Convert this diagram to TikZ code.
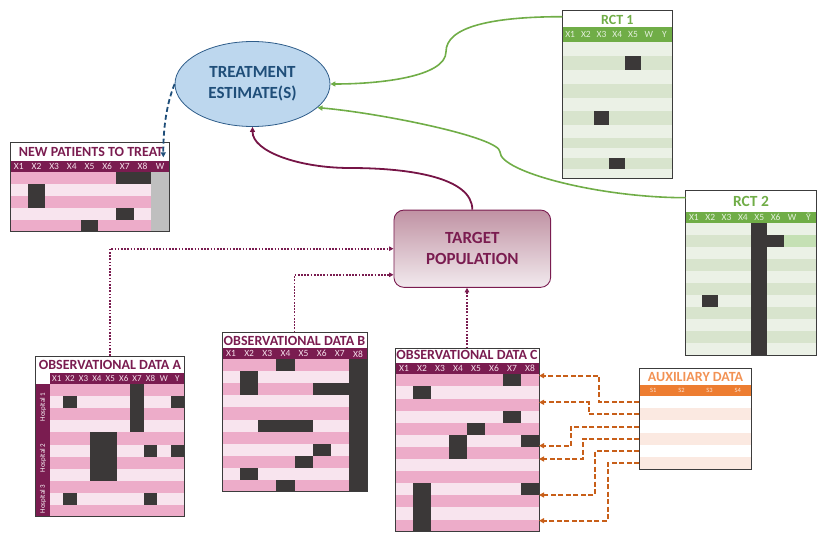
\documentclass[tikz,border=0pt]{standalone}
\usepackage{fontspec}
\setmainfont{Carlito}
\usetikzlibrary{arrows.meta,calc,shapes.geometric}

\definecolor{mar}{RGB}{122,28,80}
\definecolor{marD}{RGB}{118,20,70}
\definecolor{pinkA}{RGB}{237,172,201}
\definecolor{pinkB}{RGB}{248,228,238}
\definecolor{blk}{RGB}{59,56,56}
\definecolor{grn}{RGB}{112,173,71}
\definecolor{grnA}{RGB}{235,241,230}
\definecolor{grnB}{RGB}{216,228,205}
\definecolor{grnC}{RGB}{197,224,180}
\definecolor{org}{RGB}{237,125,49}
\definecolor{orgT}{RGB}{242,146,84}
\definecolor{orgL}{RGB}{251,233,225}
\definecolor{orgArr}{RGB}{200,95,25}
\definecolor{bluF}{RGB}{189,215,238}
\definecolor{bluD}{RGB}{31,78,121}
\definecolor{bluE}{RGB}{47,93,138}
\definecolor{gry}{RGB}{191,191,191}
\definecolor{frm}{RGB}{60,60,60}
\definecolor{tpTop}{RGB}{192,146,163}
\definecolor{tpBot}{RGB}{242,234,238}
\definecolor{hdrM}{RGB}{246,224,235}
\definecolor{hdrG}{RGB}{228,240,220}
\definecolor{hdrO}{RGB}{252,228,214}

\newcommand\stripeRows[7]{%
  \fill[#7] (#1,#2) rectangle (#3,{#2+#5*#4});
  \foreach \rr in {1,3,...,#5} \fill[#6] (#1,{#2+(\rr-1)*#4}) rectangle (#3,{#2+\rr*#4});
}
\newcommand\gridSet[4]{\def\gx{#1}\def\gy{#2}\def\gw{#3}\def\gh{#4}}
\newcommand\darkCells[5][blk]{\fill[#1] ({\gx+(#2-1)*\gw},{\gy+(#4-1)*\gh}) rectangle ({\gx+#3*\gw},{\gy+#5*\gh});}
\newcommand\headLabels[5][]{%
  \foreach \lbl [count=\nn] in {#5} \node[hl,text=#4,#1] (#2\nn) at ({\gx+(\nn-0.5)*\gw},#3) {\lbl};
}

\tikzset{
  tbox/.style={draw=frm,line width=1pt,inner sep=0pt,outer sep=0pt},
  ttl/.style={font=\bfseries\fontsize{14}{15}\selectfont,inner sep=0pt},
  hl/.style={font=\fontsize{9.5}{10}\selectfont,inner sep=0pt},
  hosp/.style={rotate=90,text=white,font=\fontsize{7}{8}\selectfont,inner sep=0pt},
  grnarr/.style={draw=grn,line width=1.6pt,-{Triangle[length=5pt,width=5pt]}},
  mararr/.style={draw=marD,line width=1.8pt,-{Triangle[length=5pt,width=5pt]}},
  bluarr/.style={draw=bluD,line width=1.8pt,dash pattern=on 5pt off 3pt,-{Triangle[length=5pt,width=5pt]}},
  dotln/.style={draw=mar,line width=1.7pt,dash pattern=on 1.7pt off 1.5pt,-{Triangle[length=4.5pt,width=4.5pt]}},
  auxarr/.style={draw=orgArr,line width=2pt,dash pattern=on 5pt off 2.5pt,-{Triangle[length=5pt,width=5pt]}},
}

\begin{document}
\begin{tikzpicture}[x=1pt,y=-1pt]
\useasboundingbox (0,0) rectangle (818,535);

% ---------- RCT 1
\fill[grn] (562.3,27) rectangle (672.3,41.7);
\foreach \a/\b/\cl in {41.7/56/grnA,56/70/grnB,70/84/grnA,84/97.7/grnB,97.7/111/grnA,111/125/grnB,125/138.3/grnA,138.3/148.3/grnB,148.3/158.3/grnA,158.3/169/grnB,169/178.5/grnA}
  \fill[\cl] (562.3,\a) rectangle (672.3,\b);
\gridSet{562.3}{41.7}{15.714}{14}
\fill[blk] (625.2,56) rectangle (640.9,70);
\fill[blk] (593.7,111) rectangle (609.4,125);
\fill[blk] (609.4,158.3) rectangle (625.2,169);
\headLabels{hr}{34.4}{hdrG}{X1,X2,X3,X4,X5,W,Y}
\node[ttl,text=grn] (trct1) at (617.3,19.5) {RCT 1};
\node[tbox,minimum width=110pt,minimum height=168.2pt,anchor=north west] (rct1) at (562.3,10.3) {};

% ---------- RCT 2
\fill[grn] (685.7,212) rectangle (816.5,222.7);
\stripeRows{685.7}{222.7}{816.5}{12.03}{11}{grnA}{grnB}
\gridSet{685.7}{222.7}{16.35}{12.03}
\darkCells[grnC]{7}{8}{2}{2}
\darkCells{5}{5}{1}{11}
\darkCells{6}{6}{2}{2}
\darkCells{2}{2}{7}{7}
\headLabels{hs}{217.3}{hdrG}{X1,X2,X3,X4,X5,X6,W,Ȳ}
\node[ttl,text=grn,font=\bfseries\fontsize{15.5}{17}\selectfont] (trct2) at (751,201.5) {RCT 2};
\node[tbox,minimum width=130.8pt,minimum height=165pt,anchor=north west] (rct2) at (685.7,190) {};

% ---------- New patients
\fill[mar] (10,161) rectangle (169,171.7);
\stripeRows{10}{171.7}{169}{12}{5}{pinkA}{pinkB}
\gridSet{10}{171.7}{17.667}{12}
\darkCells[gry]{9}{9}{1}{5}
\darkCells{7}{8}{1}{1}
\darkCells{2}{2}{2}{3}
\darkCells{7}{7}{4}{4}
\darkCells{5}{5}{5}{5}
\headLabels{hn}{166.3}{hdrM}{X1,X2,X3,X4,X5,X6,X7,X8,W}
\node[ttl,text=mar] (tnp) at (91,152) {NEW PATIENTS TO TREAT};
\node[tbox,minimum width=159pt,minimum height=89.4pt,anchor=north west] (np) at (10,142.3) {};

% ---------- Observational data A
\fill[mar] (50,372.7) rectangle (184,384.3);
\fill[mar] (35.7,384.3) rectangle (50,516.7);
\stripeRows{50}{384.3}{184}{12.04}{11}{pinkA}{pinkB}
\gridSet{50}{384.3}{13.4}{12.04}
\darkCells{7}{7}{1}{4}
\darkCells{2}{2}{2}{2}
\darkCells{10}{10}{2}{2}
\darkCells{4}{5}{5}{8}
\darkCells{8}{8}{6}{6}
\darkCells{10}{10}{6}{6}
\darkCells{2}{2}{10}{10}
\darkCells{8}{8}{10}{10}
\headLabels[font=\fontsize{9}{10}\selectfont]{ha}{378.5}{hdrM}{X1,X2,X3,X4,X5,X6,X7,X8,W,Y}
\node[hosp] (hos1) at (42.9,407) {Hospital 1};
\node[hosp] (hos2) at (42.9,458) {Hospital 2};
\node[hosp] (hos3) at (42.9,499) {Hospital 3};
\node[ttl,text=mar] (tobsA) at (110,365) {OBSERVATIONAL DATA A};
\node[tbox,minimum width=148.3pt,minimum height=160.7pt,anchor=north west] (obsA) at (35.7,356) {};

% ---------- Observational data B
\fill[mar] (222,348.3) rectangle (367,359.3);
\stripeRows{222}{359.3}{367}{12.04}{11}{pinkA}{pinkB}
\gridSet{222}{359.3}{18.125}{12.04}
\darkCells{8}{8}{1}{11}
\darkCells{4}{4}{1}{1}
\darkCells{2}{2}{2}{3}
\darkCells{6}{7}{3}{3}
\darkCells{3}{5}{6}{6}
\darkCells{6}{6}{8}{8}
\darkCells{5}{5}{9}{9}
\darkCells{2}{2}{10}{10}
\darkCells{4}{4}{11}{11}
\headLabels{hb}{353.8}{hdrM}{X1,X2,X3,X4,X5,X6,X7,X8}
\node[ttl,text=mar] (tobsB) at (294.5,340.7) {OBSERVATIONAL DATA B};
\node[tbox,minimum width=145pt,minimum height=159.4pt,anchor=north west] (obsB) at (222,332.3) {};

% ---------- Observational data C
\fill[mar] (395,362.7) rectangle (539,374.3);
\stripeRows{395}{374.3}{539}{12.1}{13}{pinkA}{pinkB}
\gridSet{395}{374.3}{18}{12.1}
\darkCells{7}{7}{1}{1}
\darkCells{2}{2}{2}{2}
\darkCells{7}{7}{4}{4}
\darkCells{5}{5}{5}{5}
\darkCells{4}{4}{6}{7}
\darkCells{8}{8}{6}{6}
\darkCells{2}{2}{10}{13}
\darkCells{8}{8}{10}{10}
\headLabels{hc}{368.5}{hdrM}{X1,X2,X3,X4,X5,X6,X7,X8}
\node[ttl,text=mar] (tobsC) at (467,355) {OBSERVATIONAL DATA C};
\node[tbox,minimum width=144pt,minimum height=183.4pt,anchor=north west] (obsC) at (395,348.3) {};

% ---------- Auxiliary data
\fill[org] (639.3,385) rectangle (751.7,396);
\stripeRows{639.3}{396}{751.7}{12.2}{6}{white}{orgL}
\gridSet{639.3}{396}{28.1}{12.2}
\node[ttl,text=orgT] (taux) at (695.5,377.3) {AUXILIARY DATA};
\headLabels[font=\fontsize{6.5}{7}\selectfont]{hx}{390.5}{hdrO}{S1,S2,S3,S4}
\node[tbox,minimum width=112.4pt,minimum height=101pt,anchor=north west] (aux) at (639.3,368.3) {};

% ---------- Central nodes
\node[ellipse,fill=bluF,draw=bluE,line width=0.8pt,minimum width=155pt,minimum height=85pt,
      text=bluD,font=\bfseries\fontsize{17}{21.5}\selectfont,align=center] (te) at (252.5,84) {TREATMENT\\ESTIMATE(S)};
\node[rounded corners=10pt,draw=mar,line width=0.9pt,top color=tpTop,bottom color=tpBot,
      minimum width=156.7pt,minimum height=77.3pt,text=mar,
      font=\bfseries\fontsize{17}{20.5}\selectfont,align=center] (tp) at (472.3,248.7) {TARGET\\POPULATION};

% ---------- Connectors
\draw[grnarr] ($(rct1.north west)+(0,6.4)$) .. controls +(-70,0) and +(0,-25) .. (446,51.7)
      .. controls +(0,25) and +(50,0) .. (te.east);
\draw[grnarr] ($(rct2.north west)+(0,7.7)$) .. controls +(-86,0) and +(0,20) .. (500,152)
      .. controls +(0,-15) and +(60,5) .. (te.-20);
\draw[mararr] (tp.north) .. controls +(0,-32) and +(60,0) .. (350,168)
      .. controls +(-50,0) and +(0,25) .. (te.south);
\draw[bluarr] (te.west) .. controls +(-8,20) and +(0,-30) .. ($(np.north east)+(-5.7,15)$);

\draw[dotln] (obsA.north) |- (tp.west);
\draw[dotln] (obsB.north) |- ($(tp.south west)+(0,-13)$);
\draw[dotln] (obsC.north) -- (obsC.north |- tp.south);

\foreach \q in {1,...,6} \coordinate (ax\q) at ($(aux.north west)+(0,{21.6+12.2*\q})$);
\draw[auxarr] (ax1) -- ++(-40,0) |- ($(obsC.north east)+(0,27.4)$);
\draw[auxarr] (ax2) -- ++(-50.3,0) |- ($(obsC.north east)+(0,54)$);
\draw[auxarr] (ax3) -- ++(-68.3,0) |- ($(obsC.north east)+(0,97.4)$);
\draw[auxarr] (ax4) -- ++(-56.6,0) |- ($(obsC.north east)+(0,110.7)$);
\draw[auxarr] (ax5) -- ++(-44.3,0) |- ($(obsC.north east)+(0,146.7)$);
\draw[auxarr] (ax6) -- ++(-31.6,0) |- ($(obsC.north east)+(0,172.4)$);
\end{tikzpicture}
\end{document}
